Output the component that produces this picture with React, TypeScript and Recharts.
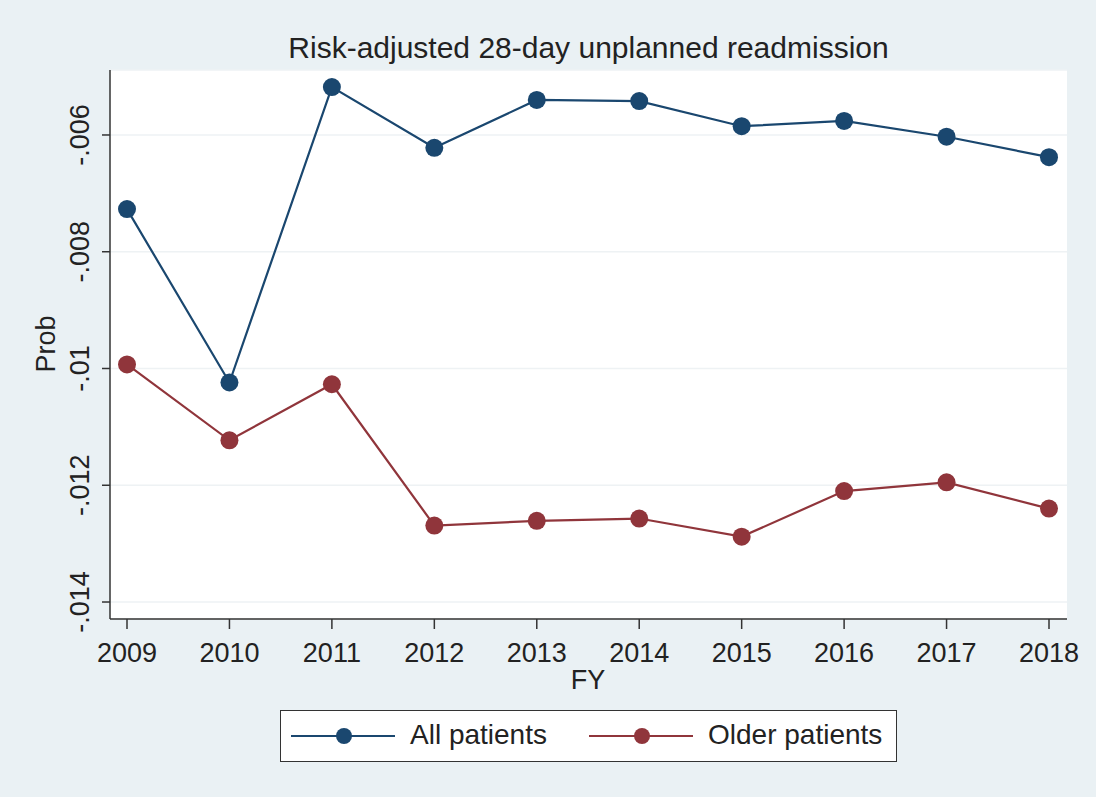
import React from 'react';
import { LineChart, Line, XAxis, YAxis, CartesianGrid } from 'recharts';

// values
const years = [2009, 2010, 2011, 2012, 2013, 2014, 2015, 2016, 2017, 2018];
const allPatients = [-0.00727, -0.01024, -0.00518, -0.00622, -0.0054, -0.00542, -0.00585, -0.00576, -0.00603, -0.00638];
const olderPatients = [-0.00993, -0.01123, -0.01027, -0.01269, -0.01261, -0.01257, -0.01288, -0.0121, -0.01195, -0.0124];
const yTicks = [-0.014, -0.012, -0.01, -0.008, -0.006];
const yTickLabels = ['-.014', '-.012', '-.01', '-.008', '-.006'];
const seriesNames = ['All patients', 'Older patients'];

// Stata s2color look
const NAVY = '#1a476f';
const MAROON = '#90353b';
const BG = '#eaf1f4';
const INK = '#222';
const FONT = '"Liberation Sans", Arial, sans-serif';

const data = years.map((year, i) => ({ year, all: allPatients[i], older: olderPatients[i] }));

const YTick = (props: any) => {
  const { x, y, payload } = props;
  const idx = yTicks.indexOf(payload.value);
  const label = idx >= 0 ? yTickLabels[idx] : String(payload.value);
  const bx = x - 11;
  return (
    <text x={bx} y={y} transform={`rotate(-90 ${bx} ${y})`} textAnchor="middle"
      fontSize={27} fill={INK} fontFamily={FONT}>
      {label}
    </text>
  );
};

const LegendIcon = ({ color }: { color: string }) => (
  <svg width={104} height={20} style={{ position: 'absolute', top: 15 }}>
    <line x1={0} y1={10} x2={104} y2={10} stroke={color} strokeWidth={2} />
    <circle cx={53} cy={10} r={8} fill={color} />
  </svg>
);

export default function App() {
  return (
    <div style={{ position: 'absolute', left: 0, top: 0, width: 1096, height: 797, background: BG, fontFamily: FONT }}>
      <div style={{ position: 'absolute', left: 110, width: 957, top: 30, textAlign: 'center', fontSize: 30, color: INK, lineHeight: '36px' }}>
        Risk-adjusted 28-day unplanned readmission
      </div>
      <LineChart width={1096} height={797} data={data} margin={{ top: 70, right: 29, bottom: 148, left: 0 }}>
        <CartesianGrid vertical={false} horizontal stroke="#eef2f4" strokeWidth={1.5} fill="#ffffff" />
        <XAxis
          type="number"
          dataKey="year"
          domain={[2009, 2018]}
          ticks={years}
          padding={{ left: 17, right: 18 }}
          tickSize={10}
          tickMargin={14}
          axisLine={{ stroke: '#333', strokeWidth: 1.5 }}
          tickLine={{ stroke: '#333', strokeWidth: 1.5 }}
          tick={{ fontSize: 27, fill: INK, fontFamily: FONT }}
          interval={0}
          label={{
            content: () => (
              <text x={588} y={689} textAnchor="middle" fontSize={27} fill={INK} fontFamily={FONT}>FY</text>
            ),
          }}
        />
        <YAxis
          type="number"
          width={110}
          domain={[-0.014291, -0.004887]}
          ticks={yTicks}
          allowDataOverflow
          tickSize={8}
          tickMargin={2}
          axisLine={{ stroke: '#333', strokeWidth: 1.5 }}
          tickLine={{ stroke: '#333', strokeWidth: 1.5 }}
          tick={<YTick />}
          interval={0}
          label={{
            content: () => (
              <text x={55} y={344} transform="rotate(-90 55 344)" textAnchor="middle" fontSize={27} fill={INK} fontFamily={FONT}>Prob</text>
            ),
          }}
        />
        <Line dataKey="all" name={seriesNames[0]} stroke={NAVY} strokeWidth={2.2} isAnimationActive={false}
          dot={{ r: 9, fill: NAVY, stroke: NAVY, strokeWidth: 0 }} activeDot={false} />
        <Line dataKey="older" name={seriesNames[1]} stroke={MAROON} strokeWidth={2.2} isAnimationActive={false}
          dot={{ r: 9, fill: MAROON, stroke: MAROON, strokeWidth: 0 }} activeDot={false} />
      </LineChart>
      <div style={{ position: 'absolute', left: 280, top: 710, width: 617, height: 52, boxSizing: 'border-box', border: '1.5px solid #333', background: '#fff', fontSize: 28, color: INK }}>
        <div style={{ position: 'absolute', left: 10 }}><LegendIcon color={NAVY} /></div>
        <div style={{ position: 'absolute', left: 129, top: 8, lineHeight: '32px' }}>{seriesNames[0]}</div>
        <div style={{ position: 'absolute', left: 308 }}><LegendIcon color={MAROON} /></div>
        <div style={{ position: 'absolute', left: 427, top: 8, lineHeight: '32px' }}>{seriesNames[1]}</div>
      </div>
    </div>
  );
}
